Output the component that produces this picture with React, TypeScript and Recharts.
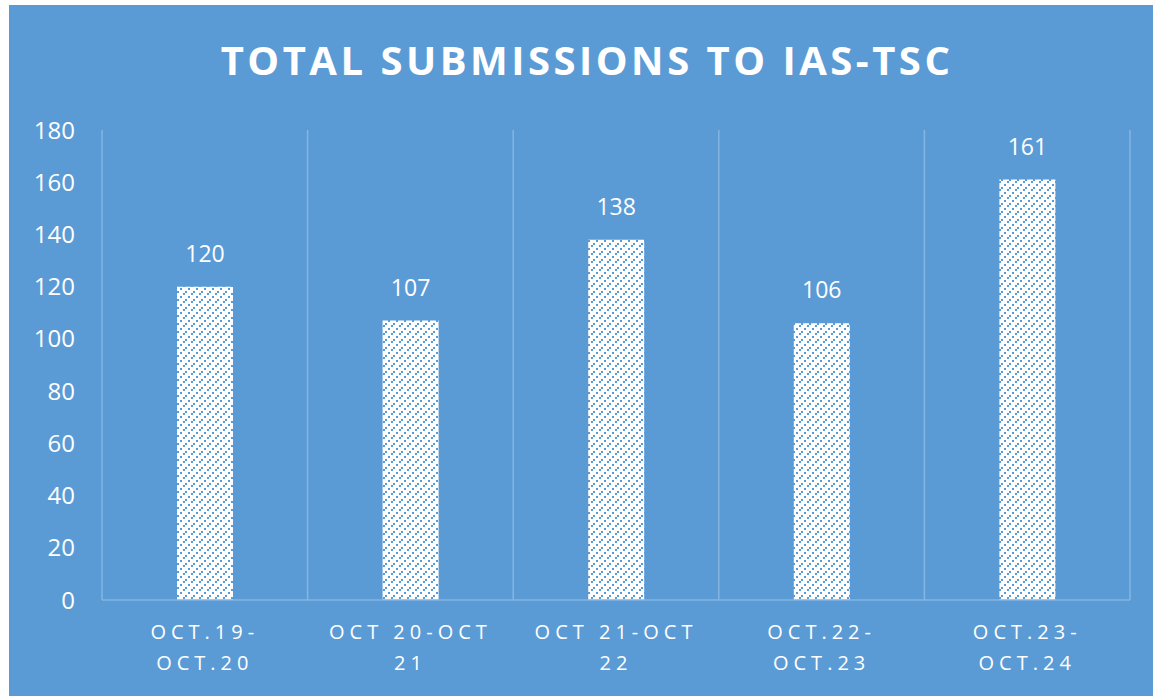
import { BarChart, Bar, XAxis, YAxis, CartesianGrid, LabelList } from "recharts";

const categories = ["OCT.19-OCT.20", "OCT 20-OCT 21", "OCT 21-OCT 22", "OCT.22-OCT.23", "OCT.23-OCT.24"];
const tickLines = [
  ["OCT.19-", "OCT.20"],
  ["OCT 20-OCT", "21"],
  ["OCT 21-OCT", "22"],
  ["OCT.22-", "OCT.23"],
  ["OCT.23-", "OCT.24"],
];
const submissions = [120, 107, 138, 106, 161];
const yTicks = [0, 20, 40, 60, 80, 100, 120, 140, 160, 180];

const data = categories.map((c, i) => ({ name: c, total: submissions[i] }));

const BG = "#5B9BD5";
const GRID = "#85B5E2";
const FONT = "'Open Sans', 'DejaVu Sans', sans-serif";

// vertical separators between categories, from the plot box
const bandEdges = ({ offset }: any) =>
  Array.from({ length: categories.length + 1 }, (_, i) => offset.left + (i * offset.width) / categories.length);

function CategoryTick(props: any) {
  const { x, y, index } = props;
  const lines = tickLines[index] || [];
  return (
    <g transform={`translate(${x},${y})`}>
      {lines.map((l, i) => (
        <text
          key={i}
          x={0}
          y={i * 31}
          dy={15}
          textAnchor="middle"
          fill="#fff"
          fontSize={20}
          letterSpacing={5}
          fontFamily={FONT}
        >
          {l}
        </text>
      ))}
    </g>
  );
}

export default function App() {
  return (
    <div
      style={{
        position: "absolute",
        left: 9,
        top: 5,
        width: 1144,
        height: 691,
        background: BG,
        fontFamily: FONT,
      }}
    >
      <div
        style={{
          position: "absolute",
          top: 31,
          left: 6,
          width: 1144,
          textAlign: "center",
          color: "#fff",
          fontSize: 40,
          fontWeight: 700,
          letterSpacing: 3.5,
          lineHeight: "48px",
        }}
      >
        TOTAL SUBMISSIONS TO IAS-TSC
      </div>
      <BarChart
        width={1144}
        height={691}
        data={data}
        margin={{ top: 125, right: 23, left: 0, bottom: 0 }}
        style={{ position: "absolute", left: 0, top: 0 }}
      >
        <defs>
          <pattern id="wideUp" width="8" height="8" patternUnits="userSpaceOnUse">
            <rect width="8" height="8" fill="#fff" />
            <rect x="0" y="6" width="2" height="2" fill={BG} />
            <rect x="3" y="3" width="2" height="2" fill={BG} />
            <rect x="6" y="0" width="2" height="2" fill={BG} />
          </pattern>
        </defs>
        <CartesianGrid
          horizontal={false}
          vertical
          verticalCoordinatesGenerator={bandEdges}
          stroke={GRID}
          strokeWidth={1.5}
        />
        <XAxis
          dataKey="name"
          axisLine={{ stroke: GRID, strokeWidth: 1.5 }}
          tickLine={false}
          tick={<CategoryTick />}
          interval={0}
          height={96}
          tickSize={0}
          tickMargin={24}
        />
        <YAxis
          domain={[0, 180]}
          ticks={yTicks}
          axisLine={false}
          tickLine={false}
          tickSize={0}
          tickMargin={27}
          width={93}
          tick={{ fill: "#fff", fontSize: 24, fontFamily: FONT }}
          interval={0}
        />
        <Bar dataKey="total" fill="url(#wideUp)" barSize={56} isAnimationActive={false}>
          <LabelList
            dataKey="total"
            position="top"
            offset={25}
            fill="#fff"
            fontSize={23}
            fontFamily={FONT}
          />
        </Bar>
      </BarChart>
    </div>
  );
}
